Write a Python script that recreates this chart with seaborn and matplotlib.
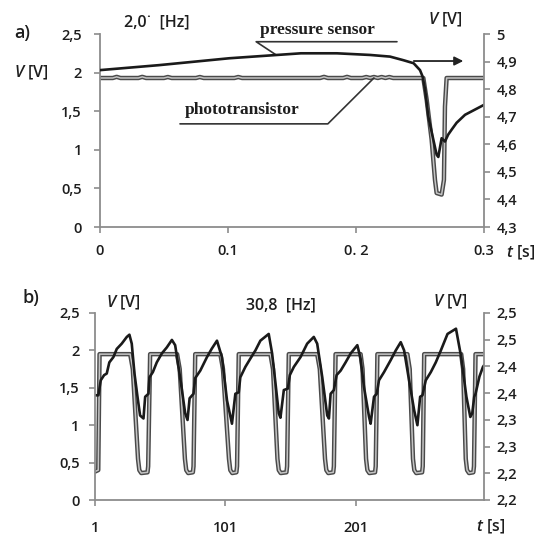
import numpy as np
import pandas as pd
import seaborn as sns
import matplotlib.pyplot as plt
import matplotlib.patheffects as pe

# ---- panel a) : single event, t in s ----
t_press_a = [0, 0.046, 0.101, 0.157, 0.185, 0.211, 0.2266, 0.237, 0.245, 0.25, 0.252, 0.254,
             0.2565, 0.2604, 0.263, 0.2643, 0.2669, 0.2695, 0.272, 0.2747, 0.2786, 0.2852, 0.3]
v_press_a = [4.869, 4.887, 4.912, 4.930, 4.930, 4.924, 4.918, 4.905, 4.894, 4.869, 4.846, 4.798,
             4.700, 4.617, 4.562, 4.554, 4.622, 4.610, 4.635, 4.653, 4.678, 4.707, 4.743]

t_photo_a = [0, 0.01, 0.013, 0.016, 0.03, 0.033, 0.036, 0.05, 0.053, 0.056, 0.075, 0.078, 0.081,
             0.105, 0.108, 0.111, 0.172, 0.175, 0.178, 0.19, 0.193, 0.196, 0.205, 0.208, 0.211,
             0.214, 0.217, 0.22, 0.223, 0.226, 0.229, 0.232, 0.2526, 0.2552, 0.2591, 0.2617,
             0.263, 0.2669, 0.2687, 0.2695, 0.2708, 0.3]
v_photo_a = [1.93, 1.93, 1.945, 1.93, 1.93, 1.945, 1.93, 1.93, 1.943, 1.93, 1.93, 1.943, 1.93,
             1.93, 1.943, 1.93, 1.93, 1.945, 1.93, 1.93, 1.945, 1.93, 1.93, 1.943, 1.93,
             1.943, 1.93, 1.943, 1.93, 1.943, 1.93, 1.93, 1.93, 1.65, 1.13, 0.61,
             0.44, 0.42, 0.61, 1.56, 1.93, 1.93]

# ---- panel b) : 30,8 Hz sequence ----
t_photo_b = [1, 3.5, 4.5,
             28, 30, 34, 35, 36.5, 41.3, 41.8, 43.3,
             64, 66, 70, 71, 72.5, 76.1, 76.6, 77.9,
             97.2, 99.2, 103.8, 104.8, 106.3, 109.5, 110, 111.3,
             135.6, 137.6, 141, 142, 143.5, 147.9, 148.4, 149.7,
             171.5, 173.5, 177.5, 178.5, 180, 183.8, 184.3, 185.6,
             204.8, 206.3, 209, 210, 211.5, 215.9, 216.4, 217.7,
             240.7, 242.5, 245, 246, 247.5, 252, 252.5, 253.6,
             282, 283.5, 285.5, 286.5, 288, 291.3, 291.8, 293, 299.5]
v_photo_b = [0.38, 0.40, 1.95,
             1.95, 1.75, 0.55, 0.40, 0.36, 0.37, 0.45, 1.95,
             1.95, 1.75, 0.55, 0.40, 0.36, 0.37, 0.45, 1.95,
             1.95, 1.75, 0.55, 0.40, 0.36, 0.37, 0.45, 1.95,
             1.95, 1.75, 0.55, 0.40, 0.36, 0.37, 0.45, 1.95,
             1.95, 1.75, 0.55, 0.40, 0.36, 0.37, 0.45, 1.95,
             1.95, 1.75, 0.55, 0.40, 0.36, 0.37, 0.45, 1.95,
             1.95, 1.75, 0.55, 0.40, 0.36, 0.37, 0.45, 1.95,
             1.95, 1.75, 0.55, 0.40, 0.36, 0.37, 0.45, 1.95, 1.95]

t_press_b = [1, 3.6, 5.4, 8, 10, 12, 15.1, 17.7, 21.5, 25.4, 27.4, 29.2, 31.3, 33.6, 35.6, 38.2,
             39.5, 42, 42.8, 45.4, 48.4, 52.3, 56.1, 60, 62.5, 65.1, 67.7, 70.2, 72, 73.6, 76.6,
             77.9, 81.8, 86.9, 90.5, 94.6, 98.4, 102.3, 106.1, 108.7, 111.3, 112.5, 116.4, 120.2,
             124.1, 127.9, 134.3, 136.9, 139.5, 142, 143.3, 145.9, 149, 150.5, 153.6, 158.7, 163.8,
             168.9, 171.5, 175.4, 179.2, 180.5, 181.8, 184.3, 186.4, 189.5, 193.3, 197.2, 202.3,
             204.8, 207.4, 211.3, 212.5, 215.1, 217.2, 218.9, 222.8, 227.9, 231.8, 235.6, 238.2,
             242, 245.9, 248.4, 250.5, 252.3, 254.8, 258.7, 262.5, 266.4, 271.5, 278, 282, 286,
             289, 290.5, 292, 293, 296, 298.7, 299.5]
v_press_b = [1.40, 1.40, 1.60, 1.67, 1.69, 1.84, 1.91, 2.02, 2.09, 2.18, 2.21, 2.09, 1.69, 1.38, 1.13, 1.09,
             1.38, 1.42, 1.64, 1.71, 1.84, 1.96, 2.04, 2.14, 2.07, 1.78, 1.47, 1.16, 1.07, 1.36, 1.42,
             1.63, 1.73, 1.91, 2.02, 2.13, 1.91, 1.33, 1.02, 1.42, 1.44, 1.64, 1.78, 1.89,
             2.00, 2.13, 2.22, 1.96, 1.56, 1.16, 1.10, 1.47, 1.49, 1.67, 1.78, 1.91, 2.09,
             2.18, 2.09, 1.64, 1.13, 1.09, 1.42, 1.47, 1.67, 1.73, 1.84, 1.96, 2.07,
             1.89, 1.51, 1.11, 1.02, 1.38, 1.42, 1.60, 1.71, 1.87, 2.00, 2.11, 2.00,
             1.60, 1.20, 1.00, 1.38, 1.40, 1.60, 1.71, 1.84, 2.00, 2.22, 2.29, 1.91, 1.38,
             1.11, 1.16, 1.38, 1.42, 1.65, 1.78, 1.80]

left_ticks = [0, 0.5, 1, 1.5, 2, 2.5]
left_labels = ['0', '0,5', '1', '1,5', '2', '2,5']
right_ticks_a = [4.3, 4.4, 4.5, 4.6, 4.7, 4.8, 4.9, 5.0]
right_labels_a = ['4,3', '4,4', '4,5', '4,6', '4,7', '4,8', '4,9', '5']
right_ticks_b = [2.2, 2.25, 2.3, 2.35, 2.4, 2.45, 2.5, 2.55]
right_labels_b = ['2,2', '2,2', '2,3', '2,3', '2,4', '2,4', '2,5', '2,5']
x_ticks_a = [0, 0.1, 0.2, 0.3]
x_labels_a = ['0', '0.1', '0. 2', '0.3']
x_ticks_b = [1, 101, 201]
x_labels_b = ['1', '101', '201']

sns.set_theme(style="white")
plt.rcParams['font.family'] = ['Open Sans', 'DejaVu Sans']
plt.rcParams['font.weight'] = 'semibold'
plt.rcParams['mathtext.fontset'] = 'custom'
plt.rcParams['mathtext.it'] = 'Open Sans:italic:semibold'
plt.rcParams['mathtext.rm'] = 'Open Sans:semibold'

SPINE = '#8c8c8c'
INK = '#1e1e1e'
hollow = [pe.Stroke(linewidth=3.2, foreground='#4a4a4a'), pe.Normal()]

fig = plt.figure(figsize=(5.55, 5.38), dpi=100)
W, H = 555, 538
ax_a = fig.add_axes([100 / W, 1 - 227 / H, 384 / W, 193 / H])
ax_b = fig.add_axes([95 / W, 1 - 500 / H, 389 / W, 187 / H])


def style(ax, twin, xpad, ypad):
    for s in ['top', 'right']:
        ax.spines[s].set_visible(False)
    for s in ['left', 'bottom']:
        ax.spines[s].set_color(SPINE)
        ax.spines[s].set_linewidth(1.3)
    for s in ['top', 'left', 'bottom']:
        twin.spines[s].set_visible(False)
    twin.spines['right'].set_color(SPINE)
    twin.spines['right'].set_linewidth(1.3)
    ax.tick_params(axis='y', left=True, direction='out', length=4, width=1.2, color=SPINE,
                   pad=ypad, labelsize=10.5, labelcolor=INK)
    ax.tick_params(axis='x', bottom=True, direction='out', length=4, width=1.2, color=SPINE,
                   pad=xpad, labelsize=10.5, labelcolor=INK)
    twin.tick_params(axis='y', right=True, direction='out', length=4, width=1.2, color=SPINE,
                     pad=5, labelsize=10.5, labelcolor=INK)
    ax.set_xlabel('')
    ax.set_ylabel('')
    twin.set_ylabel('')


# ---- panel a ----
sns.lineplot(x=t_photo_a, y=v_photo_a, sort=False, estimator=None, color='#c4c4c4',
             lw=1.1, path_effects=hollow, ax=ax_a)
tw_a = ax_a.twinx()
sns.lineplot(x=t_press_a, y=v_press_a, sort=False, estimator=None, color='#1a1a1a',
             lw=1.9, ax=tw_a)
ax_a.set_xlim(0, 0.3)
ax_a.set_ylim(0, 2.5)
tw_a.set_ylim(4.3, 5.0)
ax_a.set_xticks(x_ticks_a, x_labels_a)
ax_a.set_yticks(left_ticks, left_labels)
tw_a.set_yticks(right_ticks_a, right_labels_a)
style(ax_a, tw_a, 8, 9)

serif = dict(family='Liberation Serif', fontweight='bold', fontsize=12.5, color=INK)
ax_a.text(0.125, 2.55, 'pressure sensor', va='center', ha='left', clip_on=False, **serif)
ax_a.plot([0.1375, 0.122, 0.232], [2.23, 2.40, 2.40], color='#333333', lw=1.2, clip_on=False)
ax_a.annotate('', xy=(0.286, 2.15), xytext=(0.243, 2.15),
              arrowprops=dict(arrowstyle='-|>', color='#222222', lw=1.3, mutation_scale=13))
ax_a.text(0.066, 1.52, 'phototransistor', va='center', ha='left', **serif)
ax_a.plot([0.0625, 0.178, 0.214], [1.336, 1.336, 1.93], color='#333333', lw=1.2)

# ---- panel b ----
sns.lineplot(x=t_photo_b, y=v_photo_b, sort=False, estimator=None, color='#c4c4c4',
             lw=1.1, path_effects=hollow, ax=ax_b)
sns.lineplot(x=t_press_b, y=v_press_b, sort=False, estimator=None, color='#1a1a1a',
             lw=1.9, ax=ax_b)
tw_b = ax_b.twinx()
ax_b.set_xlim(1, 299.5)
ax_b.set_ylim(0, 2.5)
tw_b.set_ylim(2.2, 2.55)
ax_b.set_xticks(x_ticks_b, x_labels_b)
ax_b.set_yticks(left_ticks, left_labels)
tw_b.set_yticks(right_ticks_b, right_labels_b)
style(ax_b, tw_b, 11, 7)


def ftext(px, py, s, size=11.5, **kw):
    fig.text(px / W, 1 - py / H, s, fontsize=size, color=INK, va='center', ha='left', **kw)


ftext(14, 33, 'a)', size=13)
ftext(14, 73, '$V$ [V]')
ftext(124, 22, '2,0˙  [Hz]')
ftext(428, 20, '$V$ [V]')
ftext(506, 253, '$t$ [s]')

ftext(22, 298, 'b)', size=13)
ftext(106, 303, '$V$ [V]')
ftext(246, 305, '30,8  [Hz]')
ftext(433, 302, '$V$ [V]')
ftext(476, 527, '$t$ [s]')

fig.savefig('out.png', dpi=100)
